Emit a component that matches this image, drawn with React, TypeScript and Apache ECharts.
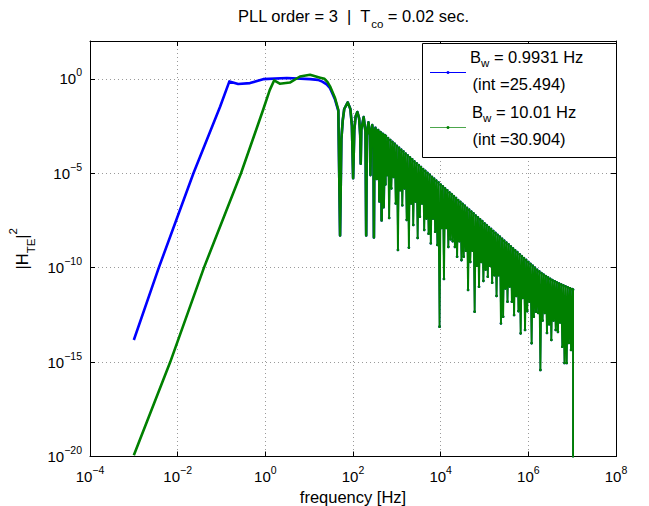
import React, { useEffect, useRef } from 'react';
import * as echarts from 'echarts';

const FONT = '"Liberation Sans", Arial, Helvetica, sans-serif';

// All points are [log10(frequency Hz), log10(|H_TE|^2)]
const blueMain: number[][] = [
  [-3, -13.83], [-2.43, -10], [-1.64, -5], [-1.03, -1.47], [-0.82, -0.14], [-0.62, -0.28],
  [-0.35, -0.23], [-0.05, -0.02], [0.49, 0.04], [1.02, -0.02], [1.2, -0.06], [1.3, -0.15],
  [1.4, -0.3], [1.476, -0.5], [1.59, -1.1], [1.665, -1.7],
];
const greenMain: number[][] = [
  [-3, -19.93], [-2.17, -15], [-1.4, -10], [-0.555, -5], [-0.05, -1.64], [0.1, -0.6], [0.2, -0.09],
  [0.33, -0.26], [0.56, -0.2], [0.79, 0.12], [1.02, 0.21], [1.25, 0.06], [1.35, 0.0], [1.42, -0.18],
  [1.476, -0.4], [1.59, -1.02], [1.665, -1.64],
];
const sidelobes: number[][] = [
  [1.705, -8.3], [1.735, -3.2], [1.766, -2.2], [1.8, -1.6], [1.88, -1.25], [1.94, -1.6], [1.975, -2.5], [2.003, -5.26],
  [2.03, -2.7], [2.06, -2.0], [2.1, -1.76], [2.14, -2.1], [2.165, -3.0], [2.176, -4.5],
  [2.19, -2.7], [2.243, -2.03], [2.285, -2.8], [2.301, -8.3],
  [2.315, -3.0], [2.352, -2.31], [2.385, -3.0], [2.398, -5.1],
  [2.41, -3.0], [2.439, -2.45], [2.465, -3.1], [2.477, -8.4],
  [2.49, -3.2], [2.512, -2.6], [2.535, -3.3], [2.544, -5.3],
  [2.555, -3.3], [2.574, -2.72], [2.594, -3.4], [2.602, -6.5],
  [2.61, -3.4], [2.628, -2.82], [2.645, -3.5], [2.653, -7.5],
  [2.662, -3.5], [2.677, -2.92], [2.692, -3.6], [2.699, -6.8],
  [2.722, -2.98], [2.737, -5.6],
];
const band: number[][] = [
  [2.75, -3.03], [2.775, -5.1], [2.8, -3.14], [2.825, -7.37], [2.85, -3.24], [2.875, -5.8], [2.9, -3.34], [2.925, -5.2], [2.95, -3.44], [2.975, -6.6],
  [3.0, -3.55], [3.025, -9.06], [3.05, -3.65], [3.075, -5.9], [3.1, -3.75], [3.125, -6.7], [3.15, -3.85], [3.175, -5.8], [3.2, -3.96], [3.225, -7.47],
  [3.25, -4.06], [3.275, -8.94], [3.3, -4.16], [3.325, -6.6], [3.35, -4.26], [3.375, -7.74], [3.4, -4.37], [3.425, -6.5], [3.45, -4.47], [3.475, -8.43],
  [3.5, -4.57], [3.525, -7.3], [3.55, -4.67], [3.575, -6.6], [3.6, -4.78], [3.625, -8.0], [3.65, -4.88], [3.675, -7.4], [3.7, -4.98], [3.725, -8.2],
  [3.75, -5.08], [3.775, -8.71], [3.8, -5.19], [3.825, -7.4], [3.85, -5.29], [3.875, -8.1], [3.9, -5.39], [3.925, -8.8], [3.95, -5.49], [3.975, -13.13],
  [4.0, -5.6], [4.025, -7.9], [4.05, -5.7], [4.075, -10.6], [4.1, -5.8], [4.125, -7.9], [4.15, -5.9], [4.175, -8.9], [4.2, -6.01], [4.225, -8.5],
  [4.25, -6.11], [4.275, -8.6], [4.3, -6.21], [4.325, -8.9], [4.35, -6.31], [4.375, -9.42], [4.4, -6.42], [4.425, -8.6], [4.45, -6.52], [4.475, -9.6],
  [4.5, -6.62], [4.525, -9.42], [4.55, -6.72], [4.575, -9.1], [4.6, -6.83], [4.625, -11.18], [4.65, -6.93], [4.675, -9.7], [4.7, -7.03], [4.725, -9.1],
  [4.75, -7.13], [4.775, -12.33], [4.8, -7.24], [4.825, -9.9], [4.85, -7.34], [4.875, -11.01], [4.9, -7.44], [4.925, -9.7], [4.95, -7.54], [4.975, -10.7],
  [5.0, -7.65], [5.025, -10.1], [5.05, -7.75], [5.075, -10.48], [5.1, -7.85], [5.125, -9.9], [5.15, -7.95], [5.175, -10.8], [5.2, -8.06], [5.225, -10.4],
  [5.25, -8.16], [5.275, -11.5], [5.3, -8.26], [5.325, -10.4], [5.35, -8.36], [5.375, -12.95], [5.4, -8.47], [5.425, -12.6], [5.45, -8.57], [5.475, -11.1],
  [5.5, -8.67], [5.525, -11.8], [5.55, -8.77], [5.575, -11.0], [5.6, -8.88], [5.625, -11.8], [5.65, -8.98], [5.675, -12.51], [5.7, -9.08], [5.725, -11.5],
  [5.75, -9.18], [5.775, -12.3], [5.8, -9.29], [5.825, -13.48], [5.85, -9.39], [5.875, -11.6], [5.9, -9.49], [5.925, -13.3], [5.95, -9.59], [5.975, -12.3],
  [6.0, -9.7], [6.025, -11.8], [6.05, -9.8], [6.075, -14.0], [6.1, -9.9], [6.125, -12.6], [6.15, -10.0], [6.175, -12.33], [6.2, -10.11], [6.225, -12.4],
  [6.25, -10.2], [6.275, -15.42], [6.3, -10.29], [6.325, -12.8], [6.35, -10.37], [6.375, -12.4], [6.4, -10.45], [6.425, -13.46], [6.45, -10.52], [6.475, -13.0],
  [6.5, -10.59], [6.525, -13.83], [6.55, -10.66], [6.575, -12.8], [6.6, -10.72], [6.625, -13.3], [6.65, -10.78], [6.675, -13.4], [6.7, -10.84], [6.725, -12.9],
  [6.75, -10.89], [6.775, -14.19], [6.8, -10.94], [6.825, -15.05], [6.85, -10.99], [6.875, -15.05], [6.9, -11.04], [6.925, -13.99], [6.95, -11.09], [6.975, -14.36],
  [7.0, -11.14], [7.02, -11.16], [7.02, -30],
];

const SERIES_NAMES = ['B_w = 0.9931 Hz (int =25.494)', 'B_w = 10.01 Hz (int =30.904)'];
const LEGEND_LINES = [
  ['= 0.9931 Hz', '(int =25.494)'],
  ['= 10.01 Hz', '(int =30.904)'],
];
const COLORS = ['#0000ff', '#008000'];

const toPts = (arr: number[][]) => arr.map(([lf, lv]) => [Math.pow(10, lf), Math.pow(10, lv)]);

const supRich = {
  b: { fontSize: 15, fontFamily: FONT, color: '#000', lineHeight: 24, fontWeight: 'normal' },
  s: { fontSize: 10.5, fontFamily: FONT, color: '#000', lineHeight: 10, verticalAlign: 'top', fontWeight: 'normal' },
};

const expLabel = (step: number) => (v: number) => {
  const e = Math.round(Math.log10(v));
  if (e % step !== 0) return '';
  return `{b|10}{s|${e < 0 ? '\u2212' : ''}${Math.abs(e)}}`;
};

const legendRich = {
  t: { fontSize: 16.5, fontFamily: FONT, color: '#000', lineHeight: 24 },
  s: { fontSize: 11.5, fontFamily: FONT, color: '#000', lineHeight: 10, verticalAlign: 'bottom' },
};

export default function App() {
  const ref = useRef<HTMLDivElement>(null);
  useEffect(() => {
    if (!ref.current) return;
    const chart = echarts.init(ref.current, null, { renderer: 'svg' });
    const gridLine = { show: true, lineStyle: { color: '#9a9a9a', type: [1, 3], width: 1 } };
    const mainLine = (i: number, data: number[][]) => ({
      type: 'line', name: SERIES_NAMES[i], data: toPts(data), symbol: 'none', showSymbol: false,
      lineStyle: { color: COLORS[i], width: 2.6, join: 'round' }, itemStyle: { color: COLORS[i] },
      clip: true, silent: true, z: 2 + i,
    });
    const bandLine = (i: number) => ({
      type: 'line', name: SERIES_NAMES[i], data: toPts([sidelobes[sidelobes.length - 1], ...band]),
      symbol: 'circle', symbolSize: 2.6, showSymbol: true,
      lineStyle: { color: COLORS[i], width: i === 1 ? 1.9 : 1.4, join: 'round' }, itemStyle: { color: COLORS[i] },
      clip: true, silent: true, z: 2 + i,
    });
    const legendGraphics: any[] = [
      { type: 'rect', shape: { x: 422.5, y: 43.5, width: 194, height: 114 }, style: { fill: '#fff', stroke: '#000', lineWidth: 1 }, z: 100 },
    ];
    [72.5, 127.5].forEach((y, i) => {
      legendGraphics.push({ type: 'line', shape: { x1: 430, y1: y, x2: 466, y2: y }, style: { stroke: COLORS[i], lineWidth: 1.2, opacity: i === 1 ? 0.7 : 1 }, z: 101 });
      legendGraphics.push({ type: 'circle', shape: { cx: 448, cy: y, r: 1.5 }, style: { fill: COLORS[i] }, z: 102 });
      legendGraphics.push({
        type: 'text', x: i === 0 ? 470 : 472, y: y - 16, z: 102,
        style: { text: `{t|B}{s|w}{t| ${LEGEND_LINES[i][0]}}`, rich: legendRich, verticalAlign: 'middle', align: 'left' },
      });
      legendGraphics.push({
        type: 'text', x: 472.5, y: y + 11.5, z: 102,
        style: { text: `{t|${LEGEND_LINES[i][1]}}`, rich: legendRich, verticalAlign: 'middle', align: 'left' },
      });
    });
    chart.setOption({
      animation: false,
      backgroundColor: '#fff',
      title: {
        text: '{t|PLL order = 3  |  T}{s|co}{t| = 0.02 sec.}',
        left: 233, top: -3,
        textStyle: {
          fontWeight: 'normal',
          rich: {
            t: { fontSize: 16.5, fontFamily: FONT, color: '#000', lineHeight: 28, fontWeight: 'normal' },
            s: { fontSize: 11.5, fontFamily: FONT, color: '#000', lineHeight: 11, verticalAlign: 'bottom', fontWeight: 'normal' },
          },
        },
      },
      graphic: legendGraphics,
      grid: { left: 90, right: 33, top: 41, bottom: 49.5, containLabel: false, outerBoundsMode: 'none', show: false },
      xAxis: [
        {
          type: 'log', logBase: 10, min: 1e-4, max: 1e8, interval: 2,
          axisLine: { show: true, lineStyle: { color: '#000', width: 1 } },
          axisTick: { show: true, inside: true, length: 5, lineStyle: { color: '#000' } },
          minorTick: { show: false },
          axisLabel: { formatter: expLabel(2), rich: supRich, margin: 8, showMinLabel: true, showMaxLabel: true },
          splitLine: gridLine,
          name: 'frequency [Hz]', nameLocation: 'middle', nameGap: 29,
          nameTextStyle: { fontSize: 16.5, fontFamily: FONT, color: '#000' },
        },
        {
          type: 'log', logBase: 10, min: 1e-4, max: 1e8, interval: 2, position: 'top',
          axisLine: { show: true, lineStyle: { color: '#000', width: 1 } },
          axisTick: { show: true, inside: true, length: 5, lineStyle: { color: '#000' } },
          axisLabel: { show: false }, splitLine: { show: false },
        },
      ],
      yAxis: [
        {
          type: 'log', logBase: 10, min: 1e-20, max: 1e2, interval: 5,
          axisLine: { show: true, lineStyle: { color: '#000', width: 1 } },
          axisTick: { show: true, inside: true, length: 5, lineStyle: { color: '#000' } },
          minorTick: { show: false },
          axisLabel: { formatter: expLabel(5), rich: supRich, margin: 8 },
          splitLine: gridLine,
          name: '{b||H}{sub|TE}{b||}{sup|2}', nameLocation: 'middle', nameGap: 49, nameRotate: 90,
          nameTextStyle: {
            rich: {
              b: { fontSize: 16.5, fontFamily: FONT, color: '#000', lineHeight: 30 },
              sub: { fontSize: 11.5, fontFamily: FONT, color: '#000', lineHeight: 11, verticalAlign: 'bottom' },
              sup: { fontSize: 11.5, fontFamily: FONT, color: '#000', lineHeight: 11, verticalAlign: 'top' },
            },
          },
        },
        {
          type: 'log', logBase: 10, min: 1e-20, max: 1e2, interval: 5, position: 'right',
          axisLine: { show: true, lineStyle: { color: '#000', width: 1 } },
          axisTick: { show: true, inside: true, length: 5, lineStyle: { color: '#000' } },
          axisLabel: { show: false }, splitLine: { show: false },
        },
      ],
      series: [
        mainLine(0, [...blueMain, ...sidelobes]),
        bandLine(0),
        mainLine(1, [...greenMain, ...sidelobes]),
        bandLine(1),
      ],
    });
    return () => chart.dispose();
  }, []);
  return <div ref={ref} style={{ position: 'fixed', left: 0, top: 0, width: 649, height: 506 }} />;
}
